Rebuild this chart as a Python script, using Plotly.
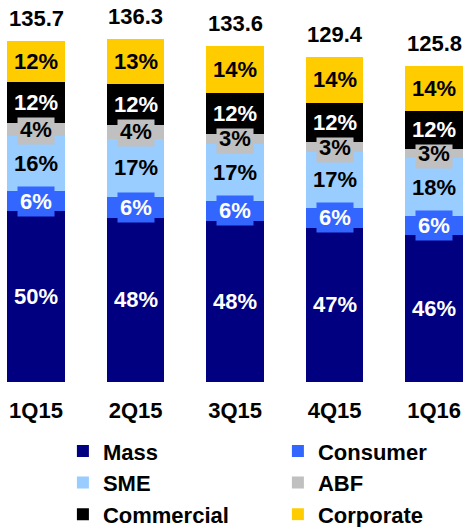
import plotly.graph_objects as go

quarters = ['1Q15', '2Q15', '3Q15', '4Q15', '1Q16']
totals = [135.7, 136.3, 133.6, 129.4, 125.8]

# share of each segment in %, as printed on the bars
mass = [50, 48, 48, 47, 46]
consumer = [6, 6, 6, 6, 6]
sme = [16, 17, 17, 17, 18]
abf = [4, 4, 3, 3, 3]
commercial = [12, 12, 12, 12, 12]
corporate = [12, 13, 14, 14, 14]

segments = [
    ('Mass', mass, '#000080', 'white'),
    ('Consumer', consumer, '#3366FF', 'white'),
    ('SME', sme, '#99CCFF', 'black'),
    ('ABF', abf, '#C0C0C0', 'black'),
    ('Commercial', commercial, '#000000', 'white'),
    ('Corporate', corporate, '#FFCC00', 'black'),
]

FONT = 'Liberation Sans, Arial, sans-serif'

# share sums per quarter (rounded shares don't always hit 100)
share_sum = [sum(seg[1][i] for seg in segments) for i in range(len(quarters))]

fig = go.Figure()
annotations = []
base = [0.0] * len(quarters)

for name, shares, color, txtcolor in segments:
    vals = [totals[i] * shares[i] / share_sum[i] for i in range(len(quarters))]
    fig.add_trace(go.Bar(
        x=quarters, y=vals, name=name,
        marker=dict(color=color, line=dict(width=0)),
        width=0.58, hoverinfo='skip',
    ))
    for i, q in enumerate(quarters):
        annotations.append(dict(
            x=q, y=base[i] + vals[i] / 2, text=f'{shares[i]}%',
            showarrow=False, bgcolor=color, borderpad=2,
            font=dict(family=FONT, size=22, color=txtcolor, weight='bold'),
        ))
        base[i] += vals[i]

# totals above bars
for q, t in zip(quarters, totals):
    annotations.append(dict(
        x=q, y=t, text=f'{t:.1f}', showarrow=False, yanchor='bottom', yshift=8,
        font=dict(family=FONT, size=22, color='black', weight='bold'),
    ))

fig.update_layout(
    width=466, height=527,
    barmode='stack',
    plot_bgcolor='white', paper_bgcolor='white',
    margin=dict(l=0, r=0, t=0, b=145, autoexpand=False),
    annotations=annotations,
    showlegend=True,
    legend=dict(
        orientation='h', x=0.135, y=-0.126, xanchor='left', yanchor='top',
        traceorder='normal', entrywidth=170, entrywidthmode='pixels',
        font=dict(family=FONT, size=22, color='black', weight='bold'),
        itemclick=False, itemdoubleclick=False,
    ),
    xaxis=dict(
        type='category', range=[-0.362, 4.32],
        showgrid=False, zeroline=False, showline=False,
        ticks='outside', ticklen=9, tickcolor='rgba(0,0,0,0)',
        tickfont=dict(family=FONT, size=22, color='black', weight='bold'),
    ),
    yaxis=dict(
        range=[0, 152], visible=False, showgrid=False, zeroline=False,
    ),
)

# drop the default body margin so the figure sits at the window's corner
fig.write_html('out.html', config={'displayModeBar': False},
               post_script="document.body.style.margin='0';")
